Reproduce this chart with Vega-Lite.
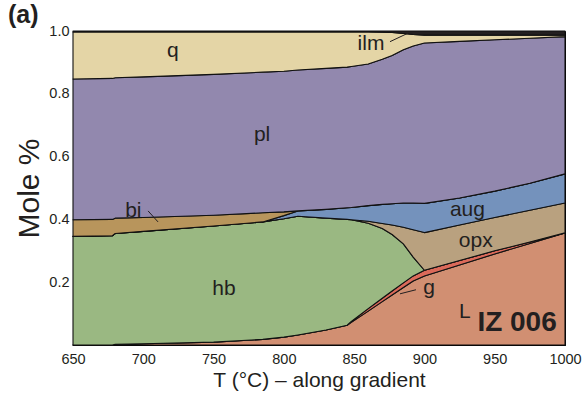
{
"$schema": "https://vega.github.io/schema/vega-lite/v6.json",
"width": 492, "height": 314,
"autosize": "none",
"padding": {"left": 73, "top": 31, "right": 20, "bottom": 59},
"background": "white",
"title": {"text": "(a)", "anchor": "start", "frame": "group", "dx": -65, "dy": 26, "offset": 1, "fontSize": 25, "fontWeight": "bold", "font": "Liberation Sans", "color": "#231F20", "baseline": "alphabetic"},
"config": {
  "view": {"stroke": "black", "strokeWidth": 1},
  "axis": {"grid": false, "domainColor": "black", "tickColor": "black", "labelColor": "#231F20", "titleColor": "#231F20", "labelFont": "Liberation Sans", "titleFont": "Liberation Sans", "labelFontSize": 14.5, "titleFontWeight": "normal", "labelOverlap": false, "labelFlush": false}
},
"resolve": {"axis": {"x": "independent"}},
"datasets": {
  "rank": [
{"phase":"L","rank":1},{"phase":"g","rank":2},{"phase":"hb","rank":3},{"phase":"opx","rank":4},{"phase":"aug","rank":5},{"phase":"bi","rank":6},{"phase":"pl","rank":7},{"phase":"q","rank":8},{"phase":"ilm","rank":9}
  ],
  "phases": [
{"T":650,"phase":"L","v":0},{"T":650,"phase":"g","v":0},{"T":650,"phase":"hb","v":0.346},{"T":650,"phase":"opx","v":0},{"T":650,"phase":"aug","v":0},{"T":650,"phase":"bi","v":0.053},{"T":650,"phase":"pl","v":0.448},{"T":650,"phase":"q","v":0.150},{"T":650,"phase":"ilm","v":0.003},
{"T":678,"phase":"L","v":0},{"T":678,"phase":"g","v":0},{"T":678,"phase":"hb","v":0.348},{"T":678,"phase":"opx","v":0},{"T":678,"phase":"aug","v":0},{"T":678,"phase":"bi","v":0.052},{"T":678,"phase":"pl","v":0.449},{"T":678,"phase":"q","v":0.148},{"T":678,"phase":"ilm","v":0.003},
{"T":680,"phase":"L","v":0.002},{"T":680,"phase":"g","v":0},{"T":680,"phase":"hb","v":0.353},{"T":680,"phase":"opx","v":0},{"T":680,"phase":"aug","v":0},{"T":680,"phase":"bi","v":0.049},{"T":680,"phase":"pl","v":0.447},{"T":680,"phase":"q","v":0.146},{"T":680,"phase":"ilm","v":0.003},
{"T":700,"phase":"L","v":0.004},{"T":700,"phase":"g","v":0},{"T":700,"phase":"hb","v":0.358},{"T":700,"phase":"opx","v":0},{"T":700,"phase":"aug","v":0},{"T":700,"phase":"bi","v":0.044},{"T":700,"phase":"pl","v":0.448},{"T":700,"phase":"q","v":0.143},{"T":700,"phase":"ilm","v":0.003},
{"T":750,"phase":"L","v":0.009},{"T":750,"phase":"g","v":0},{"T":750,"phase":"hb","v":0.370},{"T":750,"phase":"opx","v":0},{"T":750,"phase":"aug","v":0},{"T":750,"phase":"bi","v":0.034},{"T":750,"phase":"pl","v":0.449},{"T":750,"phase":"q","v":0.135},{"T":750,"phase":"ilm","v":0.003},
{"T":785,"phase":"L","v":0.018},{"T":785,"phase":"g","v":0},{"T":785,"phase":"hb","v":0.374},{"T":785,"phase":"opx","v":0},{"T":785,"phase":"aug","v":0},{"T":785,"phase":"bi","v":0.029},{"T":785,"phase":"pl","v":0.448},{"T":785,"phase":"q","v":0.128},{"T":785,"phase":"ilm","v":0.003},
{"T":800,"phase":"L","v":0.025},{"T":800,"phase":"g","v":0},{"T":800,"phase":"hb","v":0.377},{"T":800,"phase":"opx","v":0},{"T":800,"phase":"aug","v":0.010},{"T":800,"phase":"bi","v":0.012},{"T":800,"phase":"pl","v":0.448},{"T":800,"phase":"q","v":0.125},{"T":800,"phase":"ilm","v":0.003},
{"T":810,"phase":"L","v":0.032},{"T":810,"phase":"g","v":0},{"T":810,"phase":"hb","v":0.378},{"T":810,"phase":"opx","v":0},{"T":810,"phase":"aug","v":0.017},{"T":810,"phase":"bi","v":0},{"T":810,"phase":"pl","v":0.449},{"T":810,"phase":"q","v":0.121},{"T":810,"phase":"ilm","v":0.003},
{"T":830,"phase":"L","v":0.048},{"T":830,"phase":"g","v":0},{"T":830,"phase":"hb","v":0.356},{"T":830,"phase":"opx","v":0},{"T":830,"phase":"aug","v":0.028},{"T":830,"phase":"bi","v":0},{"T":830,"phase":"pl","v":0.449},{"T":830,"phase":"q","v":0.116},{"T":830,"phase":"ilm","v":0.003},
{"T":845,"phase":"L","v":0.063},{"T":845,"phase":"g","v":0},{"T":845,"phase":"hb","v":0.337},{"T":845,"phase":"opx","v":0},{"T":845,"phase":"aug","v":0.037},{"T":845,"phase":"bi","v":0},{"T":845,"phase":"pl","v":0.448},{"T":845,"phase":"q","v":0.112},{"T":845,"phase":"ilm","v":0.003},
{"T":848,"phase":"L","v":0.072},{"T":848,"phase":"g","v":0.003},{"T":848,"phase":"hb","v":0.324},{"T":848,"phase":"opx","v":0},{"T":848,"phase":"aug","v":0.039},{"T":848,"phase":"bi","v":0},{"T":848,"phase":"pl","v":0.449},{"T":848,"phase":"q","v":0.110},{"T":848,"phase":"ilm","v":0.003},
{"T":860,"phase":"L","v":0.108},{"T":860,"phase":"g","v":0.008},{"T":860,"phase":"hb","v":0.272},{"T":860,"phase":"opx","v":0.006},{"T":860,"phase":"aug","v":0.050},{"T":860,"phase":"bi","v":0},{"T":860,"phase":"pl","v":0.451},{"T":860,"phase":"q","v":0.102},{"T":860,"phase":"ilm","v":0.003},
{"T":870,"phase":"L","v":0.138},{"T":870,"phase":"g","v":0.011},{"T":870,"phase":"hb","v":0.222},{"T":870,"phase":"opx","v":0.016},{"T":870,"phase":"aug","v":0.061},{"T":870,"phase":"bi","v":0},{"T":870,"phase":"pl","v":0.462},{"T":870,"phase":"q","v":0.086},{"T":870,"phase":"ilm","v":0.004},
{"T":877,"phase":"L","v":0.159},{"T":877,"phase":"g","v":0.013},{"T":877,"phase":"hb","v":0.180},{"T":877,"phase":"opx","v":0.030},{"T":877,"phase":"aug","v":0.068},{"T":877,"phase":"bi","v":0},{"T":877,"phase":"pl","v":0.472},{"T":877,"phase":"q","v":0.073},{"T":877,"phase":"ilm","v":0.005},
{"T":885,"phase":"L","v":0.183},{"T":885,"phase":"g","v":0.015},{"T":885,"phase":"hb","v":0.124},{"T":885,"phase":"opx","v":0.053},{"T":885,"phase":"aug","v":0.077},{"T":885,"phase":"bi","v":0},{"T":885,"phase":"pl","v":0.488},{"T":885,"phase":"q","v":0.052},{"T":885,"phase":"ilm","v":0.008},
{"T":892,"phase":"L","v":0.204},{"T":892,"phase":"g","v":0.016},{"T":892,"phase":"hb","v":0.060},{"T":892,"phase":"opx","v":0.087},{"T":892,"phase":"aug","v":0.085},{"T":892,"phase":"bi","v":0},{"T":892,"phase":"pl","v":0.500},{"T":892,"phase":"q","v":0.037},{"T":892,"phase":"ilm","v":0.011},
{"T":900,"phase":"L","v":0.220},{"T":900,"phase":"g","v":0.018},{"T":900,"phase":"hb","v":0},{"T":900,"phase":"opx","v":0.120},{"T":900,"phase":"aug","v":0.093},{"T":900,"phase":"bi","v":0},{"T":900,"phase":"pl","v":0.511},{"T":900,"phase":"q","v":0.025},{"T":900,"phase":"ilm","v":0.013},
{"T":925,"phase":"L","v":0.255},{"T":925,"phase":"g","v":0.014},{"T":925,"phase":"hb","v":0},{"T":925,"phase":"opx","v":0.113},{"T":925,"phase":"aug","v":0.086},{"T":925,"phase":"bi","v":0},{"T":925,"phase":"pl","v":0.499},{"T":925,"phase":"q","v":0.020},{"T":925,"phase":"ilm","v":0.013},
{"T":950,"phase":"L","v":0.290},{"T":950,"phase":"g","v":0.010},{"T":950,"phase":"hb","v":0},{"T":950,"phase":"opx","v":0.106},{"T":950,"phase":"aug","v":0.084},{"T":950,"phase":"bi","v":0},{"T":950,"phase":"pl","v":0.482},{"T":950,"phase":"q","v":0.015},{"T":950,"phase":"ilm","v":0.013},
{"T":975,"phase":"L","v":0.323},{"T":975,"phase":"g","v":0.005},{"T":975,"phase":"hb","v":0},{"T":975,"phase":"opx","v":0.101},{"T":975,"phase":"aug","v":0.086},{"T":975,"phase":"bi","v":0},{"T":975,"phase":"pl","v":0.462},{"T":975,"phase":"q","v":0.010},{"T":975,"phase":"ilm","v":0.013},
{"T":1000,"phase":"L","v":0.357},{"T":1000,"phase":"g","v":0},{"T":1000,"phase":"hb","v":0},{"T":1000,"phase":"opx","v":0.095},{"T":1000,"phase":"aug","v":0.093},{"T":1000,"phase":"bi","v":0},{"T":1000,"phase":"pl","v":0.437},{"T":1000,"phase":"q","v":0.005},{"T":1000,"phase":"ilm","v":0.013}
  ],
  "labels": [
{"T":721,"v":0.917,"text":"q"},
{"T":862,"v":0.939,"text":"ilm"},
{"T":784.5,"v":0.649,"text":"pl"},
{"T":692.9,"v":0.408,"text":"bi"},
{"T":757.4,"v":0.158,"text":"hb"},
{"T":930.6,"v":0.41,"text":"aug"},
{"T":936.5,"v":0.312,"text":"opx"},
{"T":903.3,"v":0.161,"text":"g"},
{"T":928.7,"v":0.0845,"text":"L"}
  ],
  "leaders": [
{"T":875.5,"v":0.966,"T2":888.3,"v2":0.993},
{"T":703.4,"v":0.427,"T2":710.5,"v2":0.392},
{"T":882.6,"v":0.163,"T2":894,"v2":0.176}
  ],
  "sample": [
{"T":965.9,"v":0.044,"text":"IZ 006"}
  ]
},
"layer": [
  {
    "data": {"name": "phases"},
    "transform": [{"lookup": "phase", "from": {"data": {"name": "rank"}, "key": "phase", "fields": ["rank"]}}],
    "mark": {"type": "area", "stroke": "#111111", "strokeWidth": 1.1, "strokeJoin": "round", "interpolate": "linear"},
    "encoding": {
      "x": {"field": "T", "type": "quantitative", "scale": {"domain": [650, 1000], "nice": false},
        "axis": {"orient": "bottom", "values": [650,700,750,800,850,900,950,1000],
          "labelOverlap": false, "labelFontSize": 14.5, "format": "d",
          "tickSize": -6,
          "labelPadding": 13, "title": "T (°C) – along gradient", "titleFontSize": 21, "titlePadding": 4}},
      "y": {"field": "v", "type": "quantitative", "stack": "zero", "scale": {"domain": [0, 1], "nice": false},
        "axis": {"values": [0,0.05,0.1,0.15,0.2,0.25,0.3,0.35,0.4,0.45,0.5,0.55,0.6,0.65,0.7,0.75,0.8,0.85,0.9,0.95,1],
          "labelExpr": "(round(datum.value*100) % 20 === 0 && datum.value > 0) ? format(datum.value, '.1f') : ''",
          "labelOverlap": false,
          "tickSize": {"condition": {"test": "round(datum.value*100) % 20 === 0", "value": -6}, "value": -3},
          "labelPadding": 10, "title": "Mole %", "titleFontSize": 30, "titlePadding": 4}},
      "order": {"field": "rank", "type": "quantitative", "sort": "ascending"},
      "color": {"field": "phase", "type": "nominal",
        "scale": {"domain": ["ilm","q","pl","bi","aug","opx","hb","g","L"], "range": ["#231F20","#E4D5A6","#9288AE","#B8955C","#7492BC","#B9A17F","#9AB882","#DB6A5A","#D18F72"]},
        "legend": null}
    }
  },
  {
    "data": {"name": "leaders"},
    "mark": {"type": "rule", "color": "#231F20", "strokeWidth": 1},
    "encoding": {
      "x": {"field": "T", "type": "quantitative",
        "axis": {"orient": "bottom", "values": [660,670,680,690,710,720,730,740,760,770,780,790,810,820,830,840,860,870,880,890,910,920,930,940,960,970,980,990],
          "labels": false, "domain": false, "tickSize": -3, "title": null}},
      "y": {"field": "v", "type": "quantitative"},
      "x2": {"field": "T2"},
      "y2": {"field": "v2"}
    }
  },
  {
    "data": {"name": "labels"},
    "mark": {"type": "text", "font": "Liberation Sans", "fontSize": 21, "color": "#231F20", "align": "center", "baseline": "alphabetic"},
    "encoding": {
      "x": {"field": "T", "type": "quantitative", "axis": null},
      "y": {"field": "v", "type": "quantitative"},
      "text": {"field": "text"}
    }
  },
  {
    "data": {"name": "sample"},
    "mark": {"type": "text", "font": "Liberation Sans", "fontSize": 28, "fontWeight": "bold", "color": "#231F20", "align": "center", "baseline": "alphabetic"},
    "encoding": {
      "x": {"field": "T", "type": "quantitative", "axis": null},
      "y": {"field": "v", "type": "quantitative"},
      "text": {"field": "text"}
    }
  }
]
}
